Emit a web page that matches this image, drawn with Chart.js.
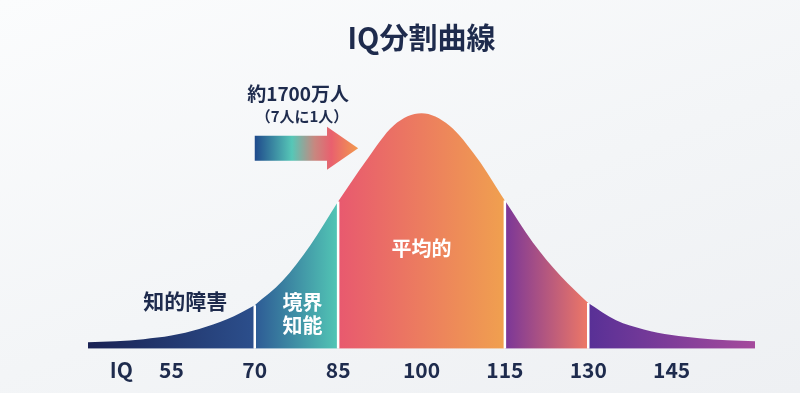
<!DOCTYPE html>
<html>
<head>
<meta charset="utf-8">
<script src="https://cdn.jsdelivr.net/npm/chart.js@4/dist/chart.umd.min.js"></script>
<style>
  html, body { margin: 0; padding: 0; }
  body { width: 800px; height: 393px; overflow: hidden;
         background: linear-gradient(160deg, #fbfcfd 0%, #f3f5f7 55%, #eef0f3 100%); }
  #wrap { width: 800px; height: 393px; position: relative; }
</style>
</head>
<body>
<div id="wrap"><canvas id="c"></canvas></div>
<script>
// ---- data ----
const iq      = [40, 45, 50, 55, 60, 65, 70, 75, 80, 85, 90, 95, 100, 105, 110, 115, 120, 125, 130, 135, 140, 145, 150, 155, 160];
const density = [6.5, 7.5, 9.5, 13, 19.5, 29, 43, 67, 102, 145, 185, 220, 232, 220, 188, 146, 105, 72, 45, 28, 19, 13.5, 10.5, 8.5, 7.5];
const boundaries = [40, 70, 85, 115, 130, 160];
const tickValues = [46, 55, 70, 85, 100, 115, 130, 145];
const tickLabels = ['IQ', '55', '70', '85', '100', '115', '130', '145'];
const titleText = 'IQ分割曲線';
const calloutMain = '約1700万人';
const calloutSub = '（7人に1人）';
const regionNames = ['知的障害', '境界\n知能', '平均的'];

// ---- styles ----
const FONT = '"Noto Sans CJK JP", "Noto Sans", sans-serif';
const NAVY = '#1e2b4d';
const segmentColors = [
  ['#1a2254', '#2c4f8c'],
  ['#2d5a95', '#52c6b5'],
  ['#e8596f', '#f0a04f'],
  ['#7a3698', '#ee7866'],
  ['#583096', '#a54a9c']
];
// annotation placement (data coordinates)
const textPlacement = [
  { text: regionNames[0], x: 57.5, y: 47.5, color: NAVY, size: 21 },
  { text: regionNames[1], x: 78.6, y: 34.5, color: '#ffffff', size: 20, lineGap: 22.5 },
  { text: regionNames[2], x: 100,  y: 99,   color: '#ffffff', size: 20 },
  { text: calloutMain,    x: 77.8, y: 251.5, color: NAVY, size: 19 },
  { text: calloutSub,     x: 78.5, y: 229,  color: NAVY, size: 15 }
];
const arrowSpec = { from: 70, headStart: 83, to: 88.6, y: 197.5, body: 12.5, head: 21.5 };

// ---- build datasets ----
function gradientFor(i) {
  return function (ctx) {
    const chart = ctx.chart;
    if (!chart.chartArea) return segmentColors[i][0];
    const xs = chart.scales.x;
    const x0 = xs.getPixelForValue(boundaries[i]);
    const x1 = xs.getPixelForValue(boundaries[i + 1]);
    const g = chart.ctx.createLinearGradient(x0, 0, x1, 0);
    g.addColorStop(0, segmentColors[i][0]);
    g.addColorStop(1, segmentColors[i][1]);
    return g;
  };
}
const datasets = [];
for (let i = 0; i < boundaries.length - 1; i++) {
  const pts = [];
  iq.forEach((v, k) => { if (v >= boundaries[i] && v <= boundaries[i + 1]) pts.push({ x: v, y: density[k] }); });
  datasets.push({
    data: pts, order: 2, fill: 'origin', backgroundColor: gradientFor(i),
    borderWidth: 0, pointRadius: 0, cubicInterpolationMode: 'monotone'
  });
}
boundaries.slice(1, -1).forEach(b => {
  const h = density[iq.indexOf(b)];
  datasets.push({
    data: [{ x: b, y: 0 }, { x: b, y: h }], order: 0, fill: false,
    borderColor: '#ffffff', borderWidth: 2.5, pointRadius: 0
  });
});

const annotationPlugin = {
  id: 'annot',
  afterDatasetsDraw(chart) {
    const c = chart.ctx, xs = chart.scales.x, ys = chart.scales.y;
    c.save();
    // arrow
    const ax0 = xs.getPixelForValue(arrowSpec.from);
    const ax1 = xs.getPixelForValue(arrowSpec.headStart);
    const ax2 = xs.getPixelForValue(arrowSpec.to);
    const ay = ys.getPixelForValue(arrowSpec.y);
    const g = c.createLinearGradient(ax0, 0, ax2, 0);
    g.addColorStop(0, '#1f4a8c');
    g.addColorStop(0.36, '#56c7b7');
    g.addColorStop(0.58, '#c8877f');
    g.addColorStop(0.74, '#e9606e');
    g.addColorStop(1, '#f29a4e');
    c.fillStyle = g;
    c.beginPath();
    c.moveTo(ax0, ay - arrowSpec.body);
    c.lineTo(ax1, ay - arrowSpec.body);
    c.lineTo(ax1, ay - arrowSpec.head);
    c.lineTo(ax2, ay);
    c.lineTo(ax1, ay + arrowSpec.head);
    c.lineTo(ax1, ay + arrowSpec.body);
    c.lineTo(ax0, ay + arrowSpec.body);
    c.closePath();
    c.fill();
    // texts
    c.textAlign = 'center';
    c.textBaseline = 'middle';
    textPlacement.forEach(t => {
      c.font = `bold ${t.size}px ${FONT}`;
      c.fillStyle = t.color;
      const lines = t.text.split('\n');
      const px = xs.getPixelForValue(t.x);
      const py = ys.getPixelForValue(t.y);
      const gap = t.lineGap || t.size * 1.2;
      const start = py - (lines.length - 1) * gap / 2;
      lines.forEach((ln, k) => c.fillText(ln, px, start + k * gap));
    });
    c.restore();
  }
};

new Chart(document.getElementById('c'), {
  type: 'line',
  data: { datasets },
  options: {
    responsive: true, maintainAspectRatio: false, animation: false,
    devicePixelRatio: 1,
    layout: { padding: { left: 88, right: 45, top: 0, bottom: 1 } },
    plugins: {
      legend: { display: false },
      tooltip: { enabled: false },
      title: {
        display: true, text: titleText, color: NAVY,
        font: { family: FONT, size: 29, weight: 'bold' },
        padding: { top: 21, bottom: 39.2 }
      }
    },
    scales: {
      x: {
        type: 'linear', min: 40, max: 160,
        grid: { display: false, drawTicks: false },
        border: { display: false },
        afterBuildTicks: (axis) => { axis.ticks = tickValues.map(v => ({ value: v })); },
        ticks: {
          autoSkip: false, maxRotation: 0, padding: 9, color: NAVY,
          font: { family: FONT, size: 21, weight: 'bold' },
          callback: (v) => { const k = tickValues.indexOf(v); return k >= 0 ? tickLabels[k] : ''; }
        }
      },
      y: { display: false, min: 0, max: 250 }
    }
  },
  plugins: [annotationPlugin]
});
</script>
</body>
</html>
